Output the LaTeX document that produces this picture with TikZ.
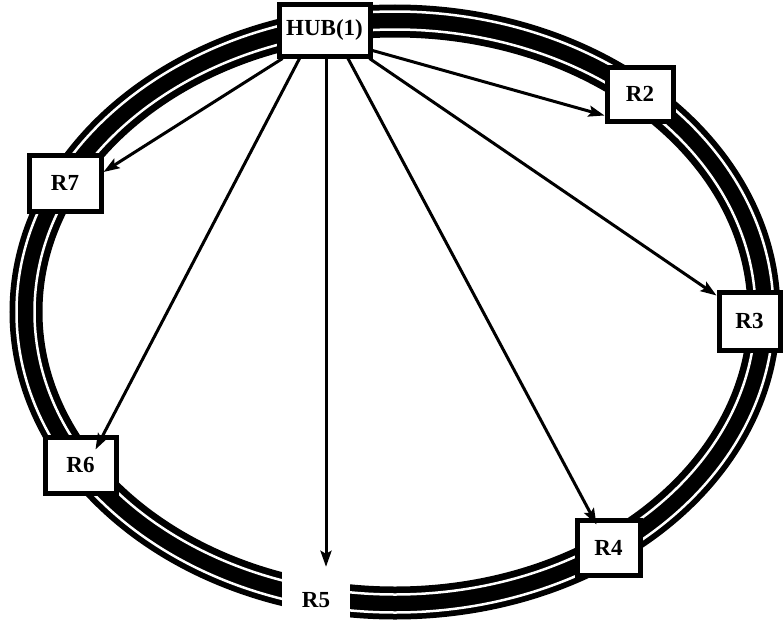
\documentclass[tikz,border=0pt]{standalone}
\usepackage{fontspec}
\setmainfont{Liberation Serif}
\usetikzlibrary{arrows.meta,calc}
\tikzset{
  boxnode/.style={draw=black, fill=white, line width=5pt, rectangle, inner sep=0pt,
    font=\fontsize{23}{25}\selectfont\bfseries},
  plainbox/.style={draw=none, fill=white, rectangle, inner sep=0pt,
    font=\fontsize{23}{25}\selectfont\bfseries},
  arr/.style={line width=3pt, -{Stealth[length=16pt,width=11pt,inset=3pt]}},
}
\begin{document}
\begin{tikzpicture}[x=1pt,y=-1pt]
\useasboundingbox (0,0) rectangle (784,629);
% ring
\draw[line width=33pt, black] (395,312) ellipse [x radius=369, y radius=291];
\draw[line width=2.5pt, white] (395,312) ellipse [x radius=378.5, y radius=300.5];
\draw[line width=2.5pt, white] (395,312) ellipse [x radius=360.5, y radius=282.5];
% nodes
\node[boxnode, minimum width=91pt, minimum height=52pt] (hub) at (324.5,30) {HUB(1)};
\node[boxnode, minimum width=66pt, minimum height=54pt] (r2) at (640,94) {R2};
\node[boxnode, minimum width=61pt, minimum height=58pt] (r3) at (749.5,321) {R3};
\node[boxnode, minimum width=63pt, minimum height=55pt] (r4) at (608.5,547.5) {R4};
\node[plainbox, minimum width=68pt, minimum height=56pt] (r5) at (316,600) {R5};
\node[boxnode, minimum width=71pt, minimum height=56pt] (r6) at (80.5,465) {R6};
\node[boxnode, minimum width=72pt, minimum height=56pt] (r7) at (65,183) {R7};
% connectors
\draw[arr] ([yshift=8pt]hub.south east) -- ([yshift=8pt]r2.south west);
\draw[arr] ([xshift=-3pt]hub.south east) -- ([yshift=-6pt]r3.north west);
\draw[arr] ([xshift=23.5pt]hub.south) -- ([xshift=-12pt,yshift=-7pt]r4.north);
\draw[arr] ([xshift=1.5pt]hub.south) -- ([xshift=10pt,yshift=5pt]r5.north);
\draw[arr] ([xshift=23pt]hub.south west) -- ([xshift=-23pt,yshift=-15pt]r6.north east);
\draw[arr] ([xshift=6pt]hub.south west) -- ([yshift=11pt]r7.east);
\end{tikzpicture}
\end{document}
